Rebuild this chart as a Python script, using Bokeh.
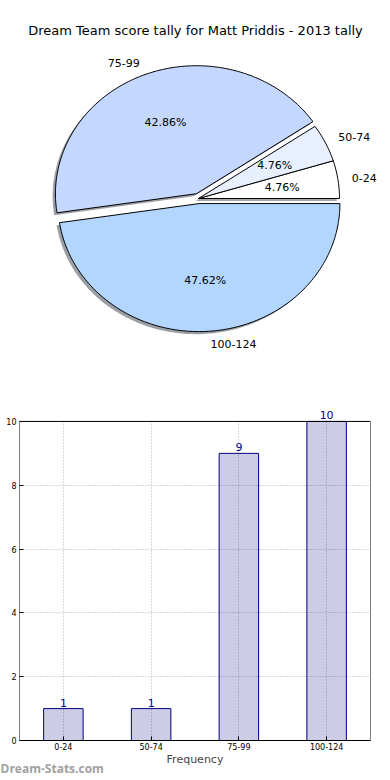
import numpy as np
from bokeh.plotting import figure
from bokeh.models import ColumnDataSource, Range1d, FactorRange, Label, LabelSet, BoxAnnotation, Title
from bokeh.core.properties import value
from bokeh.embed import file_html
from bokeh.resources import INLINE

# ---- data ----
title_text = "Dream Team score tally for Matt Priddis - 2013 tally"
categories = ["0-24", "50-74", "75-99", "100-124"]
counts = [1, 1, 9, 10]
explode = [0.0, 0.0, 0.04, 0.04]
pie_colors = ["#FFFFFF", "#E8F0FF", "#C4D8FF", "#B3D6FF"]
yticks = [0, 2, 4, 6, 8, 10]
y_max = 10
x_label = "Frequency"
watermark = "Dream-Stats.com"

FONT = "DejaVu Sans"

# ---- pie (elliptical, as in the original) ----
pie = figure(width=382, height=403, output_backend="svg", toolbar_location=None,
             x_range=Range1d(-1.4043, 1.3050), y_range=Range1d(-1.6016, 1.5469),
             x_axis_location=None, y_axis_location=None,
             min_border_left=0, min_border_right=0, min_border_top=0, min_border_bottom=0)
pie.grid.visible = False
pie.outline_line_color = None

total = float(sum(counts))
fracs = [c / total for c in counts]

def hex_to_rgb(h):
    h = h.lstrip("#")
    return tuple(int(h[i:i + 2], 16) for i in (0, 2, 4))

wx, wy, sx, sy, scol = [], [], [], [], []
label_info = []
start = 0.0
for cat, f, e, col in zip(categories, fracs, explode, pie_colors):
    t0 = 360.0 * start
    t1 = 360.0 * (start + f)
    tm = np.radians((t0 + t1) / 2.0)
    cx, cy = e * np.cos(tm), e * np.sin(tm)
    n = max(int(abs(t1 - t0)) + 2, 4)
    ang = np.radians(np.linspace(t0, t1, n))
    xs = [cx] + list(cx + np.cos(ang)) + [cx]
    ys = [cy] + list(cy + np.sin(ang)) + [cy]
    wx.append(xs)
    wy.append(ys)
    sx.append([x - 0.02 for x in xs])
    sy.append([y - 0.02 for y in ys])
    r, g, b = hex_to_rgb(col)
    scol.append("#%02x%02x%02x" % (int(0.3 * r), int(0.3 * g), int(0.3 * b)))
    label_info.append((cat, f, cx, cy, tm))
    start += f

pie.patches(sx, sy, fill_color=scol, fill_alpha=0.5, line_color=None)
pie.patches(wx, wy, fill_color=pie_colors, line_color="black", line_width=1)

for cat, f, cx, cy, tm in label_info:
    lx = cx + 1.1 * np.cos(tm)
    ly = cy + 1.1 * np.sin(tm)
    pie.add_layout(Label(x=lx, y=ly, text=cat, text_align="left" if lx > 0 else "right",
                         text_baseline="middle", text_font=FONT, text_font_size="11px",
                         text_color="black"))
    px = cx + 0.6 * np.cos(tm)
    py = cy + 0.6 * np.sin(tm)
    pie.add_layout(Label(x=px, y=py, text="%.2f%%" % (100 * f), text_align="center",
                         text_baseline="middle", text_font=FONT, text_font_size="11px",
                         text_color="black"))

pie.add_layout(Label(x=-0.0213, y=1.3125, text=title_text, text_align="center",
                     text_baseline="middle", text_font=FONT, text_font_size="13px",
                     text_color="black"))

# ---- bars ----
src = ColumnDataSource(dict(cat=categories, count=counts, label=[str(c) for c in counts]))
bar = figure(width=382, height=377, output_backend="svg", toolbar_location=None,
             x_range=FactorRange(factors=categories, range_padding=0),
             y_range=Range1d(0, y_max + 0.5),
             min_border_left=19, min_border_right=12, min_border_top=2, min_border_bottom=40)
bar.vbar(x="cat", top="count", width=0.45, fill_color="navy", fill_alpha=0.2,
         line_color="navy", line_width=1, source=src)
bar.add_layout(LabelSet(x="cat", y="count", text="label", y_offset=2, text_align="center",
                        text_baseline="bottom", text_color="navy", text_font=value(FONT),
                        text_font_size="11px", source=src))

# frame box from 0 to y_max (spines)
bar.outline_line_color = None
bar.add_layout(BoxAnnotation(bottom=0, top=y_max, fill_color=None, fill_alpha=0,
                             line_color="black", line_alpha=1, line_width=1))

for ax in (bar.xaxis, bar.yaxis):
    ax.major_label_text_font = FONT
    ax.major_label_text_font_size = "8px"
    ax.major_label_text_color = "black"
    ax.major_tick_in = 4
    ax.major_tick_out = 0
    ax.minor_tick_line_color = None
    ax.major_label_standoff = 3
bar.xaxis.major_label_standoff = 2
bar.xaxis.axis_line_color = "black"
bar.yaxis.axis_line_color = None
bar.yaxis.ticker = yticks
bar.xaxis.axis_label = x_label
bar.xaxis.axis_label_text_font = FONT
bar.xaxis.axis_label_text_font_size = "11px"
bar.xaxis.axis_label_text_font_style = "normal"
bar.xaxis.axis_label_standoff = 0
for gr in (bar.xgrid, bar.ygrid):
    gr.grid_line_color = "#b0b0b0"
    gr.grid_line_dash = "1 2"
    gr.grid_line_width = 1
xg = bar.xgrid[0]
if "cross_bounds" in xg.properties():
    xg.cross_bounds = (0, y_max)

wm = Title(text=watermark, align="left", offset=-19, text_font="Open Sans", text_font_size="12px",
           text_font_style="bold", text_color="#a0a0a0", standoff=-18, vertical_align="top",
           text_line_height=1.0)
bar.add_layout(wm, "below")

open("out.html", "w").write(file_html([pie, bar], INLINE))
